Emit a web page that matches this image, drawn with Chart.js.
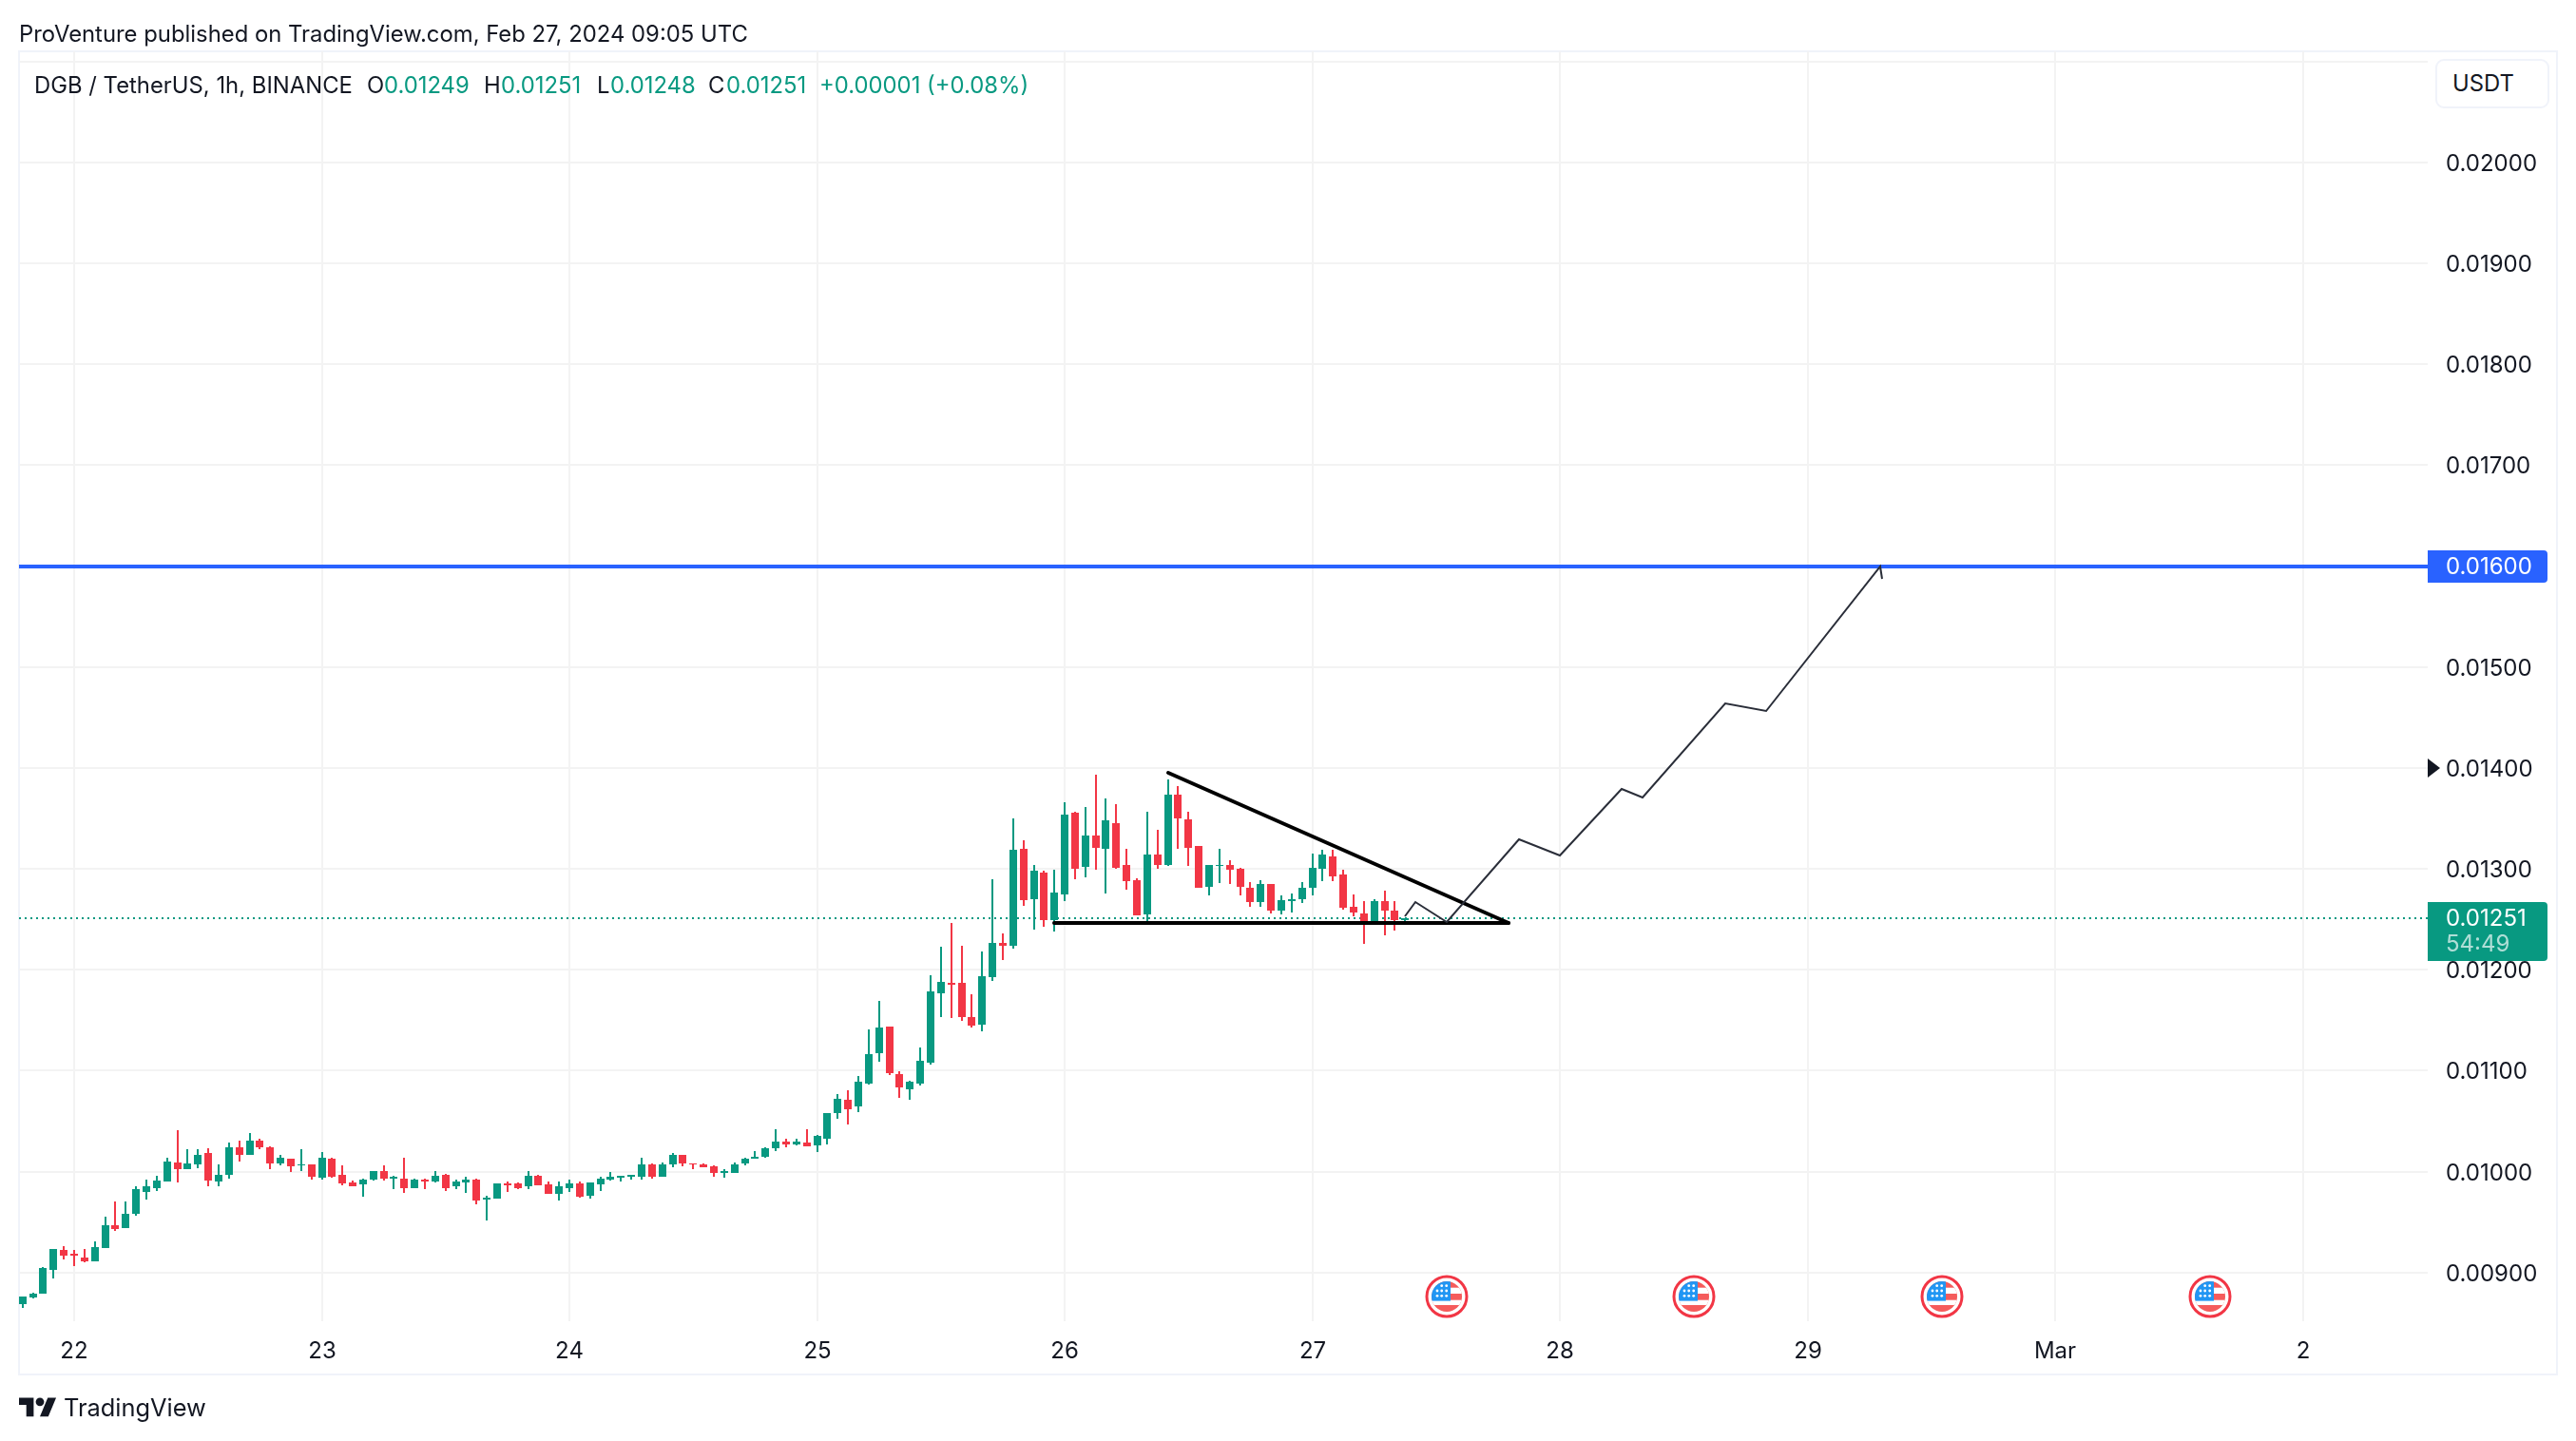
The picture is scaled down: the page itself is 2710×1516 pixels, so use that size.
<!DOCTYPE html>
<html><head><meta charset="utf-8">
<script src="https://cdn.jsdelivr.net/npm/chart.js@4"></script>
<style>
html,body{margin:0;padding:0;background:#fff;width:2710px;height:1516px;overflow:hidden}
body{position:relative;font-family:Inter,sans-serif;color:#131722}
canvas{position:absolute;left:0;top:0}
.t{position:absolute;white-space:nowrap;line-height:1;font-size:23.85px}
.g{color:#089981}
#btn{position:absolute;left:2562px;top:62px;width:120px;height:52px;box-sizing:border-box;border:2px solid #f0f3fa;border-radius:9px;background:#fff}
</style></head><body>
<canvas id="c" width="2710" height="1516"></canvas>
<div class="t" style="left:20px;top:24px">ProVenture published on TradingView.com, Feb 27, 2024 09:05 UTC</div>
<div class="t" style="left:36px;top:78px">DGB / TetherUS, 1h, BINANCE</div>
<div class="t" style="left:386px;top:78px">O</div><div class="t g" style="left:404px;top:78px">0.01249</div>
<div class="t" style="left:509px;top:78px">H</div><div class="t g" style="left:527px;top:78px">0.01251</div>
<div class="t" style="left:628px;top:78px">L</div><div class="t g" style="left:642px;top:78px">0.01248</div>
<div class="t" style="left:745px;top:78px">C</div><div class="t g" style="left:764px;top:78px">0.01251</div>
<div class="t g" style="left:862px;top:78px">+0.00001 (+0.08%)</div>
<div id="btn"></div>
<div class="t" style="left:2580px;top:76px">USDT</div>
<svg style="position:absolute;left:20px;top:1465.6px" width="39.6" height="30.8" viewBox="0 0 36 28" fill="#131722"><path d="M14 22H7V11H0V4h14v18zM28 22h-8l7.5-18h8L28 22z"/><circle cx="20" cy="8" r="4"/></svg>
<div class="t" style="left:67px;top:1468px;font-size:25.4px">TradingView</div>
<script>
const firstHour = -5;
const opens = [
.00869,.00875,.00879,.00903,.00922,.00919,.00915,.00911,.00924,.00947,
.00944,.00958,.00980,.00984,.00990,.01009,.01002,.01007,.01018,.00990,
.00997,.01024,.01017,.01031,.01024,.01008,.01013,.01006,.01007,.00994,
.01013,.00997,.00989,.00987,.00992,.01001,.00993,.00993,.00984,.00992,
.00990,.00997,.00985,.00989,.00992,.00972,.00973,.00988,.00988,.00985,
.00996,.00987,.00978,.00984,.00988,.00976,.00987,.00992,.00994,.00995,
.00995,.01007,.00995,.01007,.01017,.01008,.01007,.01005,.00999,.00999,
.01008,.01013,.01015,.01023,.01030,.01027,.01029,.01026,.01033,.01058,
.01071,.01065,.01087,.01117,.01144,.01097,.01082,.01087,.01108,.01177,
.01187,.01187,.01153,.01146,.01193,.01227,.01224,.01320,.01270,.01296,
.01249,.01275,.01356,.01302,.01333,.01320,.01345,.01304,.01289,.01255,
.01314,.01304,.01374,.01349,.01323,.01282,.01303,.01304,.01300,.01281,
.01267,.01285,.01259,.01268,.01270,.01281,.01300,.01312,.01294,.01262,
.01256,.01248,.01268,.01259,.01249];
const closes = [
.00876,.00879,.00904,.00923,.00917,.00917,.00911,.00925,.00947,.00943,
.00958,.00983,.00985,.00991,.01010,.01002,.01008,.01017,.00991,.00997,
.01024,.01017,.01031,.01024,.01008,.01014,.01005,.01007,.00995,.01014,
.00995,.00988,.00985,.00992,.01001,.00993,.00995,.00984,.00992,.00990,
.00996,.00984,.00990,.00992,.00971,.00974,.00988,.00986,.00984,.00996,
.00986,.00978,.00985,.00988,.00975,.00989,.00993,.00995,.00996,.00997,
.01007,.00995,.01007,.01017,.01008,.01007,.01004,.00999,.01001,.01007,
.01013,.01015,.01023,.01030,.01027,.01030,.01025,.01035,.01058,.01072,
.01062,.01089,.01116,.01143,.01098,.01083,.01089,.01110,.01179,.01188,
.01185,.01153,.01145,.01194,.01227,.01224,.01319,.01269,.01298,.01249,
.01277,.01354,.01300,.01333,.01321,.01348,.01301,.01288,.01254,.01314,
.01304,.01374,.01350,.01321,.01281,.01304,.01304,.01299,.01282,.01267,
.01285,.01259,.01269,.01270,.01281,.01301,.01314,.01293,.01261,.01257,
.01248,.01268,.01259,.01249,.01251];
const highs = [
.00876,.00880,.00905,.00923,.00926,.00922,.00923,.00931,.00955,.00970,
.00970,.00985,.00992,.00996,.01014,.01041,.01022,.01022,.01023,.01007,
.01029,.01031,.01038,.01033,.01025,.01017,.01013,.01022,.01007,.01019,
.01014,.01006,.00991,.00993,.01001,.01006,.00996,.01014,.00993,.00993,
.01001,.00998,.00992,.00995,.00993,.00976,.00988,.00990,.00989,.01001,
.00997,.00990,.00990,.00992,.00990,.00989,.00995,.01000,.00996,.00997,
.01014,.01008,.01009,.01018,.01017,.01008,.01008,.01006,.01002,.01009,
.01014,.01020,.01024,.01042,.01033,.01033,.01042,.01036,.01058,.01077,
.01081,.01095,.01141,.01169,.01144,.01099,.01090,.01123,.01195,.01223,
.01246,.01224,.01176,.01218,.01290,.01236,.01350,.01328,.01304,.01298,
.01299,.01366,.01357,.01361,.01393,.01370,.01364,.01320,.01291,.01357,
.01339,.01389,.01382,.01357,.01323,.01304,.01320,.01309,.01301,.01287,
.01289,.01285,.01274,.01276,.01287,.01315,.01319,.01319,.01299,.01275,
.01268,.01270,.01278,.01268,.01251];
const lows = [
.00865,.00874,.00879,.00894,.00913,.00906,.00910,.00911,.00924,.00941,
.00944,.00956,.00972,.00981,.00990,.00989,.01002,.01003,.00985,.00985,
.00993,.01010,.01017,.01022,.01002,.01006,.01000,.01001,.00992,.00992,
.00994,.00986,.00985,.00975,.00991,.00991,.00983,.00979,.00984,.00983,
.00989,.00981,.00983,.00979,.00968,.00952,.00973,.00980,.00983,.00983,
.00986,.00978,.00971,.00980,.00974,.00973,.00981,.00991,.00990,.00992,
.00992,.00993,.00995,.01004,.01005,.01002,.01004,.00995,.00994,.00999,
.01006,.01013,.01014,.01020,.01024,.01026,.01025,.01019,.01027,.01052,
.01047,.01059,.01086,.01109,.01096,.01073,.01071,.01085,.01106,.01153,
.01152,.01149,.01143,.01139,.01189,.01210,.01221,.01263,.01240,.01243,
.01238,.01268,.01290,.01292,.01299,.01276,.01300,.01279,.01254,.01245,
.01300,.01303,.01320,.01303,.01281,.01274,.01286,.01285,.01274,.01262,
.01262,.01256,.01255,.01257,.01266,.01274,.01288,.01288,.01260,.01253,
.01226,.01248,.01234,.01239,.01248];

const dayHours = [0,24,48,72,96,120,144,168,192,216];
const dayLabels = ['22','23','24','25','26','27','28','29','Mar','2'];
const priceTicks = [.009,.010,.011,.012,.013,.014,.015,.016,.017,.018,.019,.020,.021];
const levelPrice = 0.016;
const lastPrice = 0.01251;
const countdown = '54:49';
const topLineHours = [106,139];   const topLinePrices = [.01395,.01246];
const baseLineHours = [95,139];   const baseLinePrices = [.01246,.01246];
const pathHours = [129,130,133,140,144,150,152,160,164,175,175.2];
const pathPrices = [.01253,.012675,.012475,.01329,.01313,.01379,.01371,.01464,.014566,.01600,.01587];
const eventHours = [133,157,181,207];
const eventPrice = 0.00876;
const arrowPrice = 0.014;
const xRange = [-5.343,228.1];
const yRange = [.008517,.021102];

const UP='#089981', DOWN='#f23645', GRID='#f3f3f3', FRAME='#f0f3fa', INK='#131722', BLUE='#2962ff';

class SnapLinear extends Chart.LinearScale {
  getPixelForValue(v){ return Math.round(super.getPixelForValue(v)); }
}
SnapLinear.id='snapLinear'; SnapLinear.defaults=Chart.LinearScale.defaults;
Chart.register(SnapLinear);

function flagIcon(){
  const s=50, c=document.createElement('canvas'); c.width=s;c.height=s;
  const g=c.getContext('2d'); g.translate(s/2,s/2);
  g.beginPath();g.arc(0,0,21,0,7);g.fillStyle='#fff';g.fill();g.lineWidth=3;g.strokeStyle=DOWN;g.stroke();
  g.save();g.beginPath();g.arc(0,0,16,0,7);g.clip();
  g.fillStyle='#f55b5b';g.fillRect(-17,-17,34,34);
  g.fillStyle='#fff';g.fillRect(-17,-9.3,34,6.3);g.fillRect(-17,3.7,34,5.3);
  g.fillStyle='#2196f3';g.fillRect(-17,-17,21,21.6);
  g.fillStyle='#fff';
  [[-5.3,-11.3],[-.3,-11.3],[-10,-6],[-5.3,-6],[-.3,-6],[-10,-.7],[-5.3,-.7],[-.3,-.7]].forEach(p=>{g.beginPath();g.arc(p[0],p[1],1.4,0,7);g.fill();});
  g.restore();
  return c;
}
const idx=opens.map((_,i)=>firstHour+i);
const col=opens.map((o,i)=>closes[i]>=o?UP:DOWN);
const pts=(xs,ys)=>xs.map((x,i)=>({x,y:ys[i]}));

const decor={id:'decor',
  beforeDraw(ch){const g=ch.ctx;g.save();g.strokeStyle=FRAME;g.lineWidth=2;g.strokeRect(20,54,2670,1392);g.restore();},
  afterDraw(ch){
    const g=ch.ctx,y=ch.scales.y,a=ch.chartArea,x0=a.right,lx=2573;
    g.save();
    g.font='24px Inter';g.textBaseline='middle';g.textAlign='left';
    const tag=(top,h,c)=>{g.fillStyle=c;g.beginPath();g.roundRect(x0,top,126,h,[0,4,4,0]);g.fill();};
    let py=y.getPixelForValue(levelPrice);
    tag(py-17,34,BLUE);g.fillStyle='#fff';g.fillText(levelPrice.toFixed(5),lx,py+1);
    py=y.getPixelForValue(lastPrice);
    tag(py-17,62,UP);g.fillStyle='#fff';g.fillText(lastPrice.toFixed(5),lx,py+1);
    g.fillStyle='rgba(255,255,255,.68)';g.fillText(countdown,lx,py+28);
    py=y.getPixelForValue(arrowPrice);
    g.fillStyle=INK;g.beginPath();g.moveTo(x0,py-10);g.lineTo(x0+13,py);g.lineTo(x0,py+10);g.closePath();g.fill();
    g.restore();
  }};

new Chart(document.getElementById('c'),{
  type:'bar',
  data:{datasets:[
    {type:'line',label:'Level',data:pts(xRange,[levelPrice,levelPrice]),borderColor:BLUE,borderWidth:4,pointRadius:0,order:7},
    {type:'line',label:'Last price',data:pts(xRange,[lastPrice,lastPrice]),borderColor:UP,borderWidth:2,borderDash:[2,4],pointRadius:0,order:6},
    {label:'Wicks',data:idx.map((x,i)=>({x,y:[lows[i],highs[i]]})),backgroundColor:col,barThickness:2,order:5},
    {label:'Bodies',data:idx.map((x,i)=>({x,y:[opens[i],closes[i]]})),backgroundColor:col,barThickness:8,order:4},
    {type:'line',label:'Top line',data:pts(topLineHours,topLinePrices),borderColor:'#000',borderWidth:4,borderCapStyle:'round',pointRadius:0,order:3},
    {type:'line',label:'Base line',data:pts(baseLineHours,baseLinePrices),borderColor:'#000',borderWidth:4,borderCapStyle:'round',pointRadius:0,order:2},
    {type:'line',label:'Forecast',data:pts(pathHours,pathPrices),borderColor:'#2a2e39',borderWidth:2,pointRadius:0,order:1},
    {type:'line',label:'Events',data:eventHours.map(x=>({x,y:eventPrice})),showLine:false,pointStyle:flagIcon(),pointRadius:25,order:0}
  ]},
  options:{
    responsive:false,animation:false,devicePixelRatio:1,
    grouped:false,inflateAmount:0,
    elements:{bar:{borderWidth:0,inflateAmount:0}},
    layout:{autoPadding:false,padding:{left:20,top:54,right:20,bottom:70}},
    plugins:{legend:{display:false},tooltip:{enabled:false},title:{display:false}},
    scales:{
      x:{type:'snapLinear',min:xRange[0],max:xRange[1],offset:false,
        grid:{color:GRID,lineWidth:2,drawTicks:false,offset:false},border:{display:false},
        afterBuildTicks:s=>{s.ticks=dayHours.map(value=>({value}));},
        afterFit:s=>{s.height=56;s.paddingLeft=0;s.paddingRight=0;},
        ticks:{autoSkip:false,maxRotation:0,padding:17,color:INK,font:{family:'Inter',size:24},
          callback:(v,i)=>dayLabels[i]}},
      y:{type:'snapLinear',position:'right',min:yRange[0],max:yRange[1],
        grid:{color:GRID,lineWidth:2,drawTicks:false},border:{display:false},
        afterBuildTicks:s=>{s.ticks=priceTicks.map(value=>({value}));},
        afterFit:s=>{s.width=136;s.paddingTop=0;s.paddingBottom=0;},
        ticks:{autoSkip:false,padding:19,crossAlign:'near',labelOffset:2,color:INK,font:{family:'Inter',size:24},
          callback:v=>v>0.0205?'':v.toFixed(5)}}
    }
  },
  plugins:[decor]
});
</script>
</body></html>
